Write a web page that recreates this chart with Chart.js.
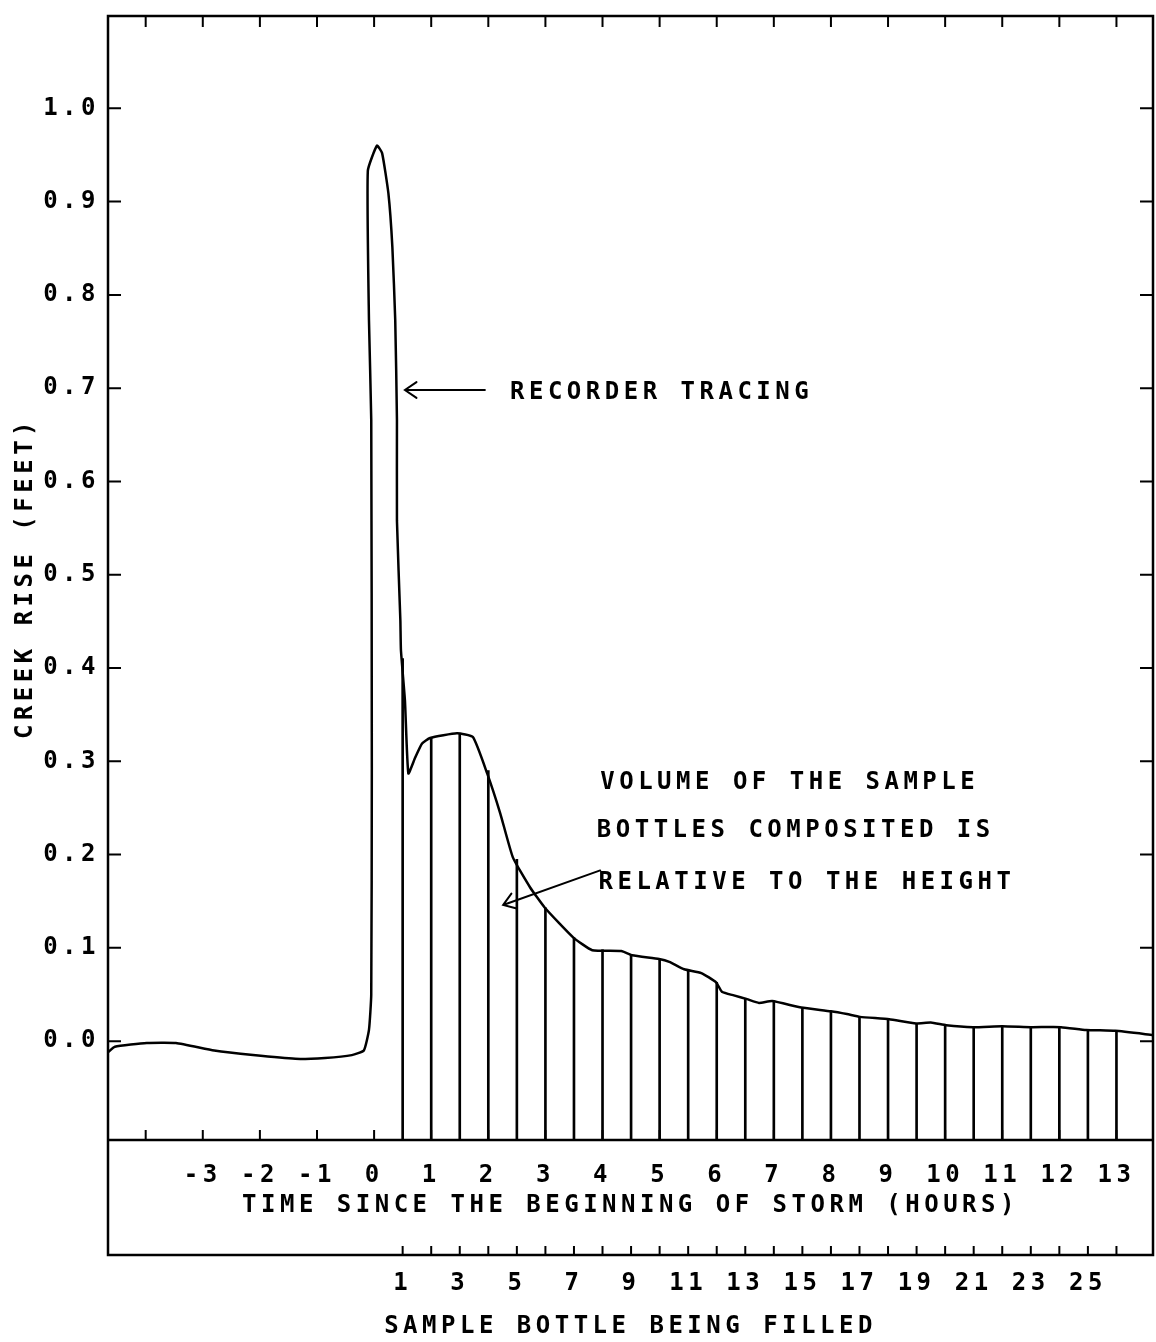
<!DOCTYPE html>
<html lang="en">
<head>
<meta charset="UTF-8">
<title>Creek Rise and Sample Bottles</title>
<script src="https://cdn.jsdelivr.net/npm/chart.js"></script>
<style>
    body { margin: 0; background: #fff; }
    canvas { display: block; }
</style>
</head>
<body>
<canvas id="creekChart" width="1156" height="1342"></canvas>
<script>
// recorder tracing, hours since storm start vs creek rise (feet)
const traceHours = [-4.66, -4.54, -3.98, -3.47, -2.80, -2.12, -1.38, -0.86, -0.39, -0.18,
    -0.09, -0.05, -0.04, -0.05, -0.09, -0.11, 0.05, 0.14, 0.25, 0.32,
    0.37, 0.40, 0.40, 0.46, 0.47, 0.54, 0.60, 0.72, 0.84, 0.98,
    1.45, 1.73, 1.98, 2.21, 2.43, 2.73, 2.99, 3.49, 3.82, 4.33,
    4.52, 4.99, 5.17, 5.43, 5.73, 5.99, 6.09, 6.30, 6.53, 6.74,
    6.97, 7.48, 8.00, 8.28, 8.51, 9.02, 9.49, 9.75, 10.02, 10.49,
    11.00, 11.50, 12.03, 12.47, 12.98, 13.64];
const traceFeet = [-0.012, -0.006, -0.002, -0.002, -0.010, -0.015, -0.019, -0.018, -0.015, -0.010,
    0.012, 0.050, 0.294, 0.666, 0.773, 0.933, 0.960, 0.952, 0.909, 0.851,
    0.773, 0.666, 0.558, 0.451, 0.419, 0.365, 0.287, 0.304, 0.319, 0.325,
    0.330, 0.326, 0.287, 0.244, 0.197, 0.165, 0.143, 0.111, 0.0975, 0.0965,
    0.092, 0.088, 0.085, 0.077, 0.073, 0.063, 0.053, 0.049, 0.045, 0.041,
    0.043, 0.036, 0.032, 0.029, 0.026, 0.0235, 0.019, 0.020, 0.017, 0.015,
    0.016, 0.015, 0.015, 0.012, 0.011, 0.0065];

// sample bottles, one every half hour
const bottleNumbers = [1, 2, 3, 4, 5, 6, 7, 8, 9, 10, 11, 12, 13,
    14, 15, 16, 17, 18, 19, 20, 21, 22, 23, 24, 25, 26];
const bottleHours = [0.5, 1.0, 1.5, 2.0, 2.5, 3.0, 3.5, 4.0, 4.5, 5.0, 5.5, 6.0, 6.5,
    7.0, 7.5, 8.0, 8.5, 9.0, 9.5, 10.0, 10.5, 11.0, 11.5, 12.0, 12.5, 13.0];
const bottleHeights = [0.41, 0.325, 0.330, 0.290, 0.195, 0.143, 0.111, 0.098, 0.093, 0.088, 0.076, 0.063, 0.046,
    0.043, 0.036, 0.032, 0.026, 0.024, 0.019, 0.017, 0.015, 0.016, 0.015, 0.015, 0.012, 0.011];
const bottleLabelNumbers = [1, 3, 5, 7, 9, 11, 13, 15, 17, 19, 21, 23, 25];

// axis ticks
const hourLabels = [-3, -2, -1, 0, 1, 2, 3, 4, 5, 6, 7, 8, 9, 10, 11, 12, 13];
const hourTickMarks = [-4, -3, -2, -1, 0, 1, 2, 3, 4, 5, 6, 7, 8, 9, 10, 11, 12, 13];
const feetTicks = [0.0, 0.1, 0.2, 0.3, 0.4, 0.5, 0.6, 0.7, 0.8, 0.9, 1.0];

const X_MIN = -4.66, X_MAX = 13.64;
const Y_MIN = -0.106, Y_MAX = 1.099;

const FONT = '"DejaVu Sans Mono", monospace';
const SPACING = '4.5px';

// notes, in data units
const notes = [
    { text: 'RECORDER TRACING', h: 2.38, v: 0.695 },
    { text: 'VOLUME OF THE SAMPLE', h: 3.96, v: 0.2765 },
    { text: 'BOTTLES COMPOSITED IS', h: 3.90, v: 0.225 },
    { text: 'RELATIVE TO THE HEIGHT', h: 3.93, v: 0.170 }
];
const arrows = [
    { from: [1.94, 0.698], to: [0.54, 0.698] },
    { from: [3.96, 0.183], to: [2.26, 0.146] }
];

const tracePoints = traceHours.map((h, i) => ({ x: h, y: traceFeet[i] }));
const bottleBars = bottleHours.map((h, i) => ({ x: h, y: [Y_MIN, bottleHeights[i]] }));

const framePlugin = {
    id: 'frame',
    beforeDraw(chart) {
        chart.ctx.letterSpacing = SPACING;
    },
    afterDraw(chart) {
        const ctx = chart.ctx;
        const area = chart.chartArea;
        const x = chart.scales.x, y = chart.scales.y, x2 = chart.scales.x2;
        const boxBottom = x.bottom;
        ctx.save();
        ctx.letterSpacing = SPACING;
        ctx.strokeStyle = '#000';
        ctx.lineCap = 'square';

        // outer frame and the lower label box
        ctx.lineWidth = 2.5;
        ctx.beginPath();
        ctx.moveTo(area.left, boxBottom);
        ctx.lineTo(area.left, area.top);
        ctx.lineTo(area.right, area.top);
        ctx.lineTo(area.right, boxBottom);
        ctx.lineTo(area.left, boxBottom);
        ctx.moveTo(area.left, area.bottom);
        ctx.lineTo(area.right, area.bottom);
        ctx.stroke();

        // inward tick marks
        ctx.lineWidth = 2;
        ctx.beginPath();
        hourTickMarks.forEach(h => {
            const px = x.getPixelForValue(h);
            ctx.moveTo(px, area.top);
            ctx.lineTo(px, area.top + 10);
            ctx.moveTo(px, area.bottom);
            ctx.lineTo(px, area.bottom - 9);
        });
        feetTicks.forEach(v => {
            const py = y.getPixelForValue(v);
            ctx.moveTo(area.left, py);
            ctx.lineTo(area.left + 12, py);
            ctx.moveTo(area.right, py);
            ctx.lineTo(area.right - 12, py);
        });
        bottleHours.forEach(h => {
            const px = x2.getPixelForValue(h);
            ctx.moveTo(px, boxBottom);
            ctx.lineTo(px, boxBottom - 8);
        });
        ctx.stroke();

        // notes
        ctx.fillStyle = '#000';
        ctx.font = 'bold 24px ' + FONT;
        ctx.textBaseline = 'middle';
        ctx.textAlign = 'left';
        notes.forEach(n => {
            ctx.fillText(n.text, x.getPixelForValue(n.h), y.getPixelForValue(n.v));
        });

        ctx.lineWidth = 2;
        ctx.lineCap = 'round';
        arrows.forEach(a => {
            const x1 = x.getPixelForValue(a.from[0]), y1 = y.getPixelForValue(a.from[1]);
            const x2p = x.getPixelForValue(a.to[0]), y2p = y.getPixelForValue(a.to[1]);
            const ang = Math.atan2(y2p - y1, x2p - x1);
            ctx.beginPath();
            ctx.moveTo(x1, y1);
            ctx.lineTo(x2p, y2p);
            ctx.moveTo(x2p - 14 * Math.cos(ang - 0.6), y2p - 14 * Math.sin(ang - 0.6));
            ctx.lineTo(x2p, y2p);
            ctx.lineTo(x2p - 14 * Math.cos(ang + 0.6), y2p - 14 * Math.sin(ang + 0.6));
            ctx.stroke();
        });
        ctx.restore();
    }
};

const tickFont = { family: FONT, size: 24, weight: 'bold' };

new Chart(document.getElementById('creekChart'), {
    type: 'scatter',
    data: {
        datasets: [
            {
                type: 'scatter',
                label: 'Recorder tracing',
                data: tracePoints,
                showLine: true,
                borderColor: '#000',
                borderWidth: 2.5,
                pointRadius: 0,
                tension: 0.15,
                order: 1
            },
            {
                type: 'bar',
                label: 'Sample bottles',
                data: bottleBars,
                backgroundColor: '#000',
                borderWidth: 0,
                barThickness: 2,
                grouped: false,
                order: 2
            }
        ]
    },
    options: {
        responsive: false,
        animation: false,
        layout: { padding: { top: 16, right: 3, left: 0, bottom: 0 } },
        plugins: {
            legend: { display: false },
            tooltip: { enabled: false }
        },
        scales: {
            x: {
                type: 'linear',
                position: 'bottom',
                weight: 0,
                min: X_MIN,
                max: X_MAX,
                offset: false,
                grid: { display: false },
                border: { display: false },
                afterBuildTicks: s => { s.ticks = hourLabels.map(v => ({ value: v })); },
                afterFit: s => { s.height = 115; },
                ticks: {
                    autoSkip: false,
                    maxRotation: 0,
                    padding: 13,
                    color: '#000',
                    font: tickFont,
                    callback: v => String(v)
                },
                title: {
                    display: true,
                    text: 'TIME SINCE THE BEGINNING OF STORM (HOURS)',
                    color: '#000',
                    font: tickFont,
                    padding: { top: 0, bottom: 35 }
                }
            },
            x2: {
                type: 'linear',
                position: 'bottom',
                weight: 1,
                min: X_MIN,
                max: X_MAX,
                offset: false,
                grid: { display: false },
                border: { display: false },
                afterBuildTicks: s => { s.ticks = bottleLabelNumbers.map(n => ({ value: n / 2 })); },
                afterFit: s => { s.height = 87; },
                ticks: {
                    autoSkip: false,
                    maxRotation: 0,
                    padding: 6,
                    color: '#000',
                    font: tickFont,
                    callback: v => String(Math.round(v * 2))
                },
                title: {
                    display: true,
                    text: 'SAMPLE BOTTLE BEING FILLED',
                    color: '#000',
                    font: tickFont,
                    padding: { top: 0, bottom: 1 }
                }
            },
            y: {
                type: 'linear',
                position: 'left',
                min: Y_MIN,
                max: Y_MAX,
                grid: { display: false },
                border: { display: false },
                afterBuildTicks: s => { s.ticks = feetTicks.map(v => ({ value: v })); },
                afterFit: s => { s.width = 108; },
                ticks: {
                    padding: 0,
                    color: '#000',
                    font: tickFont,
                    callback: v => v.toFixed(1)
                },
                title: {
                    display: true,
                    text: 'CREEK RISE (FEET)',
                    color: '#000',
                    font: tickFont,
                    padding: { top: 11, bottom: 0 }
                }
            }
        }
    },
    plugins: [framePlugin]
});
</script>
</body>
</html>
